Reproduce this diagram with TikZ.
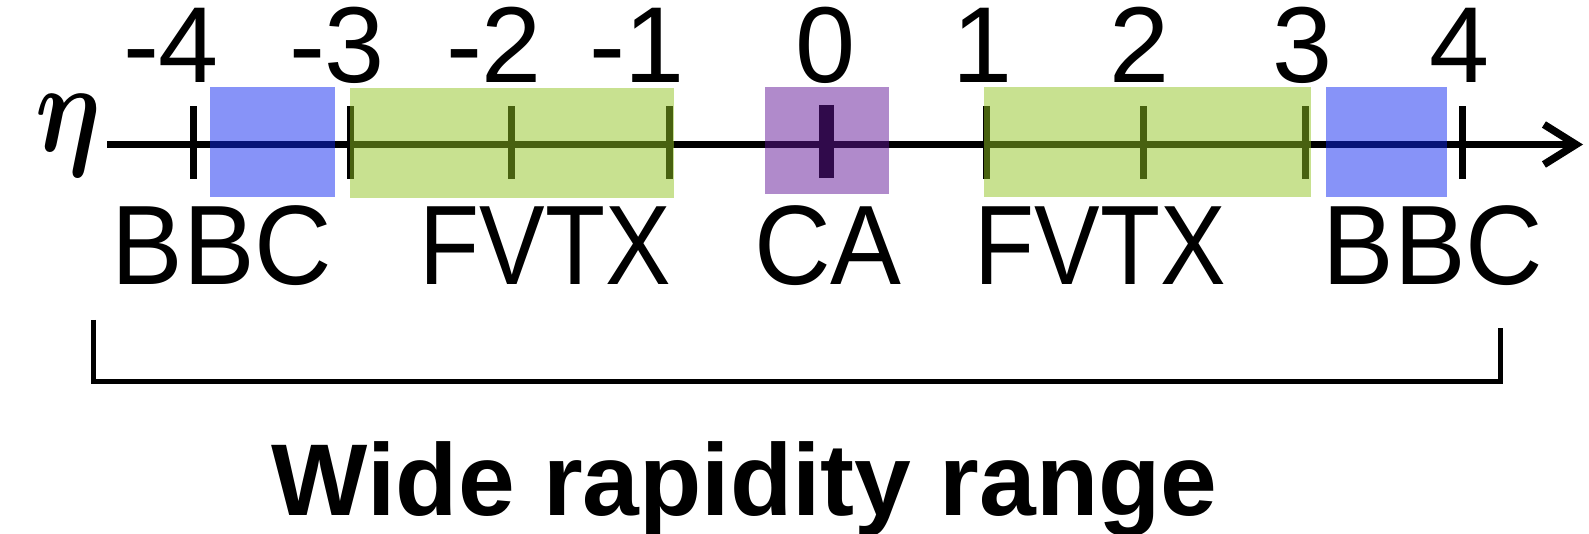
\documentclass[tikz,border=0pt]{standalone}
\usepackage{fontspec}
\setmainfont{Liberation Sans}
\usetikzlibrary{arrows.meta}
\definecolor{bbcblue}{RGB}{15,39,241}
\definecolor{fvtxgreen}{RGB}{145,195,33}
\definecolor{capurple}{RGB}{97,21,151}
\tikzset{
  detbox/.style={draw=none, fill opacity=0.5, inner sep=0pt, outer sep=0pt},
  ticklabel/.style={anchor=base, inner sep=0pt, text height=78pt, text depth=0pt, font=\fontsize{108}{108}\selectfont},
  detlabel/.style={anchor=base, inner sep=0pt, font=\fontsize{113}{113}\selectfont},
  tickmark/.style={line width=7pt},
  axisline/.style={line width=7.5pt, -{Straight Barb[length=32pt,width=40pt]}},
  bracket/.style={line width=5.5pt, miter limit=10},
}
\begin{document}
\begin{tikzpicture}[x=1pt,y=-1pt]
\useasboundingbox (0,0) rectangle (1589,534);
% axis
\coordinate (axS) at (107,144.5);
\coordinate (axE) at (1583,144.5);
\draw[axisline] (axS) -- (axE);
% ticks
\foreach \k/\xx in {-4/193.3,-3/350.3,-2/511,-1/669.6,1/986.6,2/1143,3/1305.7,4/1462}{
  \draw[tickmark] (\xx,106.5) -- (\xx,179.3);
}
\draw[line width=14.5pt] (826.7,105) -- (826.7,178.3);
% detector boxes
\node[detbox, fill=bbcblue, minimum width=125pt, minimum height=110pt] (bbcL) at (272.5,142) {};
\node[detbox, fill=fvtxgreen, minimum width=324pt, minimum height=110pt] (fvtxL) at (512,143) {};
\node[detbox, fill=capurple, minimum width=124.5pt, minimum height=107pt] (ca) at (827.2,140.5) {};
\node[detbox, fill=fvtxgreen, minimum width=327pt, minimum height=110pt] (fvtxR) at (1147.5,142) {};
\node[detbox, fill=bbcblue, minimum width=121.7pt, minimum height=110pt] (bbcR) at (1386.5,142) {};
% eta
\node[anchor=base, inner sep=0pt] (eta) at (68,152) {\scalebox{10.3}[12.8]{\boldmath$\eta$}};
% tick labels
\node[ticklabel] (tm4) at (189,83) {\llap{-}4};
\node[ticklabel] (tm3) at (355,83) {\llap{-}3};
\node[ticklabel] (tm2) at (512,83) {\llap{-}2};
\node[ticklabel] (tm1) at (655,83) {\llap{-}1};
\node[ticklabel] (t0) at (826,83) {0};
\node[ticklabel] (t1) at (983,83) {1};
\node[ticklabel] (t2) at (1140,83) {2};
\node[ticklabel] (t3) at (1303,83) {3};
\node[ticklabel] (t4) at (1460,83) {4};
% detector labels
\node[detlabel] (lbbcL) at (222,285) {\scalebox{0.95}[1]{BBC}};
\node[detlabel] (lfvtxL) at (545,285) {\scalebox{0.87}[1]{FVTX}};
\node[detlabel] (lca) at (828,285) {\scalebox{0.94}[1]{CA}};
\node[detlabel] (lfvtxR) at (1100,285) {\scalebox{0.87}[1]{FVTX}};
\node[detlabel] (lbbcR) at (1433,285) {\scalebox{0.95}[1]{BBC}};
% bracket
\coordinate (brA) at (93.3,320);
\coordinate (brB) at (93.3,381.5);
\coordinate (brC) at (1500.3,381.5);
\coordinate (brD) at (1500.3,328.3);
\draw[bracket] (brA) -- (brB) -- (brC) -- (brD);
% title
\node[anchor=base, inner sep=0pt, font=\fontsize{102}{102}\selectfont\bfseries] (title) at (744.7,515) {Wide rapidity range};
\end{tikzpicture}
\end{document}
